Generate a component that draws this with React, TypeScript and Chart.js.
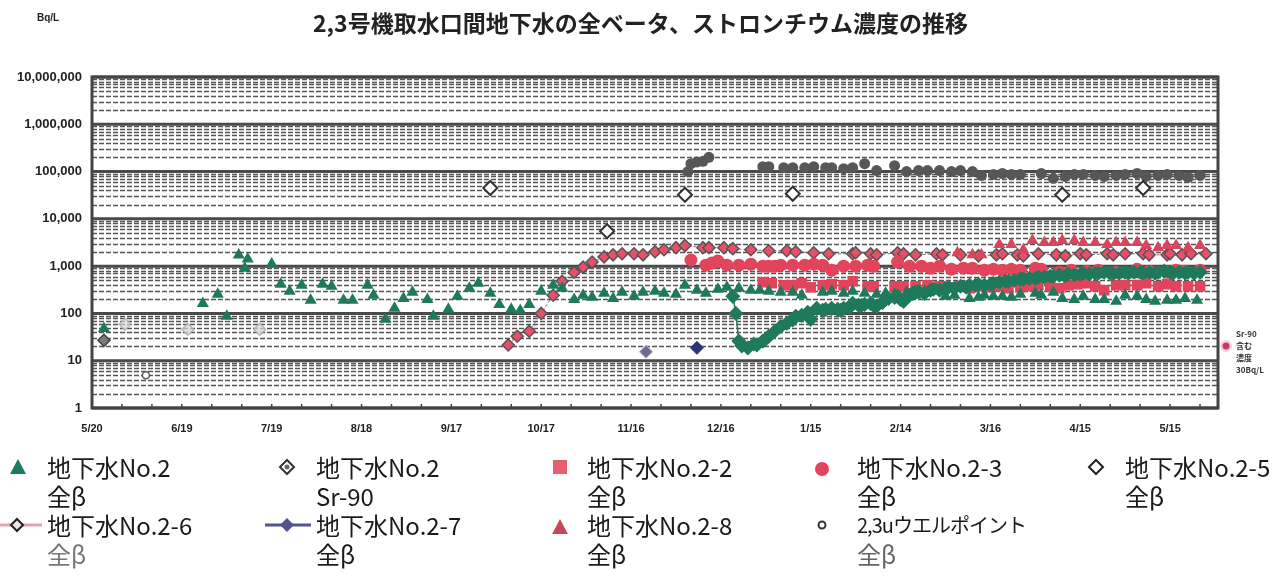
import React, { useEffect, useRef } from 'react';
import { Chart, registerables } from 'chart.js';

Chart.register(...registerables);

// ---- axis definitions (days since 5/20) ----
const X_TICK_DAYS = [0, 30, 60, 90, 120, 150, 180, 210, 240, 270, 300, 330, 360];
const X_TICK_LABELS = ['5/20', '6/19', '7/19', '8/18', '9/17', '10/17', '11/16', '12/16', '1/15', '2/14', '3/16', '4/15', '5/15'];
const Y_TICKS = [1, 10, 100, 1000, 10000, 100000, 1000000, 10000000];
const X_MAX = 376;

// ---- series: [day, Bq/L] ----
const NO2_BETA: number[][] = [
  [4, 48], [37, 163], [42, 254], [45, 87], [49, 1730], [51, 906], [52, 1420], [60, 1105], [63, 414], [66, 294],
  [70, 394], [73, 189], [77, 414], [80, 375], [84, 189], [87, 189], [92, 394], [94, 242], [98, 75], [101, 128],
  [104, 208], [107, 280], [112, 198], [114, 87], [119, 122], [122, 230], [126, 340], [129, 435], [133, 266], [136, 155],
  [140, 122], [143, 116], [146, 155], [150, 294], [154, 394], [157, 340], [161, 198], [164, 242], [167, 219], [171, 266],
  [174, 208], [177, 280], [181, 230], [184, 280], [188, 294], [191, 266], [195, 254], [198, 394], [202, 309], [205, 266],
  [209, 324], [212, 357], [216, 340], [220, 309], [223, 309], [226, 294], [230, 280], [234, 280], [237, 242], [244, 280],
  [247, 294], [251, 266], [254, 294], [258, 266], [262, 254], [265, 266], [268, 254], [272, 280], [275, 242], [278, 294],
  [282, 309], [285, 230], [288, 242], [293, 208], [296, 219], [298, 242], [301, 230], [304, 230], [307, 219], [310, 254],
  [315, 266], [317, 242], [321, 280], [324, 208], [328, 198], [331, 230], [335, 198], [338, 198], [342, 180], [345, 242],
  [349, 230], [352, 198], [355, 180], [359, 189], [362, 189], [365, 208], [369, 189],
];
const NO2_SR90: number[][] = [[4, 27]];
const NO2_FAINT: number[][] = [[11, 59], [32, 46], [56, 46]];
const NO2_2_BETA: number[][] = [
  [224, 457], [227, 435], [231, 394], [234, 394], [237, 435], [240, 357], [244, 394], [247, 414], [251, 394], [254, 480],
  [259, 375], [261, 375], [268, 375], [271, 375], [275, 375], [279, 394], [283, 375], [286, 357], [290, 375], [293, 340],
  [296, 375], [300, 357], [303, 375], [306, 340], [310, 357], [313, 375], [316, 394], [320, 375], [323, 340], [326, 394],
  [329, 414], [332, 435], [335, 375], [338, 309], [342, 394], [345, 394], [349, 394], [352, 435], [356, 375], [359, 414],
  [362, 375], [366, 375], [370, 375],
];
const NO2_3_BETA: number[][] = [
  [200, 1350], [205, 1050], [207, 1160], [209, 1280], [212, 1050], [216, 1050], [220, 1100], [224, 1000], [226, 1000], [228, 1000],
  [230, 1050], [234, 1050], [238, 1050], [241, 1100], [244, 1050], [247, 820], [251, 1000], [255, 1000], [259, 1050], [261, 1000],
  [269, 1220], [273, 1000], [277, 1000], [280, 906], [283, 1000], [287, 860], [291, 906], [294, 906], [298, 822], [301, 860],
  [304, 822], [307, 860], [310, 822], [315, 906], [317, 860], [323, 745], [327, 822], [332, 784], [336, 822], [342, 745],
  [349, 860], [353, 784], [359, 745], [362, 822], [365, 784], [370, 822],
];
const NO2_5_BETA: number[][] = [[133, 45000], [172, 5480], [198, 32400], [234, 33900], [324, 32400], [351, 45000]];
const NO2_6_BETA: number[][] = [
  [139, 21.5], [142, 33], [146, 42], [150, 100], [154, 242], [157, 480], [161, 745], [164, 952], [167, 1220], [171, 1570],
  [174, 1735], [177, 1823], [181, 1823], [184, 1735], [188, 2015], [191, 2227], [195, 2460], [198, 2720], [204, 2460], [206, 2460],
  [211, 2460], [214, 2340], [220, 2227], [226, 2120], [232, 2120], [235, 2015], [241, 1917], [246, 1823], [254, 1823], [255, 1917],
  [260, 1823], [262, 1735], [269, 1917], [271, 1823], [275, 1735], [282, 1823], [284, 1735], [290, 1735], [296, 1650], [302, 1735],
  [304, 1823], [309, 1735], [311, 1650], [316, 1823], [322, 1735], [325, 1650], [330, 1823], [332, 1735], [339, 1823], [341, 1735],
  [345, 1823], [351, 1823], [353, 1735], [359, 1735], [360, 1823], [364, 1735], [367, 1823], [372, 1823],
];
const NO2_7_BETA: number[][] = [[185, 15.4], [202, 18.7]];
const NO2_8_BETA: number[][] = [
  [289, 1917], [294, 1735], [297, 1735], [303, 2860], [307, 2860], [311, 2227], [314, 3497], [318, 3165], [321, 3165], [324, 3497],
  [328, 3497], [331, 3165], [335, 3165], [339, 2860], [342, 3165], [345, 3165], [349, 3165], [352, 2720], [356, 2460], [359, 2720],
  [362, 2720], [366, 2460], [370, 2720],
];
const WELLPOINT_BETA: number[][] = [[18, 4.9]];
const WELLPOINT_DARK: number[][] = [
  [199, 100000], [200, 147000], [202, 160000], [204, 165000], [206, 200000], [224, 127000], [226, 127000], [231, 121000], [234, 121000], [238, 121000],
  [241, 127000], [245, 121000], [247, 121000], [251, 115000], [254, 121000], [258, 147000], [262, 105000], [268, 133000], [272, 100000], [276, 105000],
  [279, 105000], [283, 105000], [287, 100000], [290, 105000], [294, 100000], [297, 83000], [301, 87000], [304, 91000], [307, 87000], [310, 87000],
  [317, 91000], [321, 72000], [325, 79000], [328, 87000], [331, 87000], [335, 83000], [338, 79000], [342, 83000], [345, 87000], [349, 91000],
  [352, 79000], [356, 83000], [359, 87000], [363, 83000], [366, 75000], [370, 83000],
];
const GREEN_DIAMOND: number[][] = [
  [214, 230], [215, 100], [216, 26], [217, 20.6], [219, 18.7], [221, 22.6], [222, 21.6], [224, 26], [225, 28.7], [226, 33],
  [228, 42], [230, 53], [232, 62], [234, 73], [235, 87], [237, 91], [239, 105], [240, 75], [242, 128], [244, 116],
  [245, 122], [247, 128], [249, 122], [250, 116], [251, 128], [253, 134], [254, 163], [256, 148], [257, 148], [258, 155],
  [260, 163], [261, 148], [262, 141], [264, 171], [265, 198], [266, 208], [268, 219], [269, 230], [270, 198], [271, 180],
  [273, 242], [274, 266], [275, 280], [276, 294], [278, 266], [280, 309], [281, 324], [283, 309], [285, 340], [286, 357],
  [288, 340], [290, 375], [292, 357], [293, 394], [295, 394], [296, 414], [298, 394], [300, 414], [301, 435], [303, 456],
  [305, 480], [306, 480], [308, 504], [310, 530], [311, 530], [313, 556], [315, 556], [316, 584], [318, 584], [320, 613],
  [321, 613], [323, 644], [325, 630], [326, 676], [328, 650], [330, 670], [331, 710], [333, 680], [335, 700], [336, 710],
  [338, 745], [340, 710], [341, 690], [343, 710], [345, 745], [346, 710], [348, 745], [350, 745], [351, 710], [353, 745],
  [355, 710], [356, 745], [358, 783], [360, 745], [361, 710], [363, 745], [365, 710], [366, 745], [368, 710], [370, 745],
];

const toXY = (arr: number[][]) => arr.map(([x, y]) => ({ x, y }));

const gridPlugin = {
  id: 'scanGrid',
  beforeDatasetsDraw(chart: any) {
    const { ctx, chartArea: a, scales } = chart;
    const ys = scales.y;
    const xs = scales.x;
    ctx.save();
    ctx.strokeStyle = '#555';
    ctx.lineWidth = 1.3;
    ctx.setLineDash([5, 2]);
    for (let e = 0; e < 7; e++) {
      for (let k = 2; k <= 9; k++) {
        const py = Math.round(ys.getPixelForValue(k * Math.pow(10, e))) + 0.5;
        ctx.beginPath();
        ctx.moveTo(a.left, py);
        ctx.lineTo(a.right, py);
        ctx.stroke();
      }
    }
    ctx.setLineDash([]);
    ctx.strokeStyle = '#4a4a4a';
    ctx.lineWidth = 3;
    for (let e = 0; e <= 7; e++) {
      const py = ys.getPixelForValue(Math.pow(10, e));
      ctx.beginPath();
      ctx.moveTo(a.left, py);
      ctx.lineTo(a.right, py);
      ctx.stroke();
    }
    ctx.lineWidth = 1.5;
    ctx.strokeStyle = '#444';
    for (let d = 10; d < X_MAX; d += 10) {
      const px = xs.getPixelForValue(d);
      ctx.beginPath();
      ctx.moveTo(px, a.bottom);
      ctx.lineTo(px, a.bottom - 4);
      ctx.stroke();
    }
    ctx.lineWidth = 3;
    ctx.strokeStyle = '#444';
    ctx.strokeRect(a.left, a.top, a.right - a.left, a.bottom - a.top);
    ctx.restore();
  },
};

const GREEN = '#1f7a5c';
const RED = '#e2445b';

const legendText: React.CSSProperties = {
  position: 'absolute',
  fontFamily: '"Noto Sans CJK JP", "Noto Sans", sans-serif',
  fontSize: 24,
  lineHeight: '29px',
  color: '#1a1a1a',
  whiteSpace: 'nowrap',
};

export default function App() {
  const canvasRef = useRef<HTMLCanvasElement | null>(null);

  useEffect(() => {
    if (!canvasRef.current) return;
    const chart = new Chart(canvasRef.current, {
      type: 'scatter',
      data: {
        datasets: [
          {
            label: '地下水No.2 全β', data: toXY(NO2_BETA), pointStyle: 'triangle', pointRadius: 7,
            backgroundColor: GREEN, borderColor: GREEN, borderWidth: 0,
          },
          {
            label: '地下水 全β', data: toXY(GREEN_DIAMOND), pointStyle: 'rectRot', pointRadius: 6.5, showLine: true,
            borderColor: GREEN, borderWidth: 1.5, pointBackgroundColor: GREEN, pointBorderColor: GREEN,
          },
          {
            label: '地下水No.2-2 全β', data: toXY(NO2_2_BETA), pointStyle: 'rect', pointRadius: 7.5,
            backgroundColor: RED, borderColor: RED, borderWidth: 0,
          },
          {
            label: '地下水No.2-3 全β', data: toXY(NO2_3_BETA), pointStyle: 'circle', pointRadius: 6.5,
            backgroundColor: RED, borderColor: RED, borderWidth: 0,
          },
          {
            label: '地下水No.2-8 全β', data: toXY(NO2_8_BETA), pointStyle: 'triangle', pointRadius: 7,
            backgroundColor: '#d8455c', borderColor: '#d8455c', borderWidth: 0,
          },
          {
            label: '地下水No.2-6 全β', data: toXY(NO2_6_BETA), pointStyle: 'rectRot', pointRadius: 6, showLine: true,
            borderColor: '#8a6a70', borderWidth: 1, borderDash: [3, 2],
            pointBackgroundColor: '#e8506a', pointBorderColor: '#555', pointBorderWidth: 1.5,
          },
          {
            label: '地下水No.2-5 全β', data: toXY(NO2_5_BETA), pointStyle: 'rectRot', pointRadius: 7,
            backgroundColor: '#ffffff', borderColor: '#333', borderWidth: 2,
          },
          {
            label: '2,3uウエルポイント', data: toXY(WELLPOINT_DARK), pointStyle: 'circle', pointRadius: 5.5,
            backgroundColor: '#575757', borderColor: '#575757', borderWidth: 0,
          },
          {
            label: '地下水No.2-7 全β', data: toXY(NO2_7_BETA), pointStyle: 'rectRot', pointRadius: 6.5,
            pointBackgroundColor: ['#6d6a92', '#2b3578'], pointBorderColor: ['#b8b4d0', '#2b3578'], pointBorderWidth: 1,
          },
          {
            label: '地下水No.2 Sr-90', data: toXY(NO2_SR90), pointStyle: 'rectRot', pointRadius: 6,
            backgroundColor: '#7a7a7a', borderColor: '#444', borderWidth: 1.5,
          },
          {
            label: '地下水No.2 Sr-90 ', data: toXY(NO2_FAINT), pointStyle: 'rectRot', pointRadius: 6,
            backgroundColor: 'rgba(215,215,215,0.7)', borderColor: 'rgba(175,175,175,0.8)', borderWidth: 1.5,
          },
          {
            label: '2,3uウエルポイント 全β', data: toXY(WELLPOINT_BETA), pointStyle: 'circle', pointRadius: 3.5,
            backgroundColor: '#ffffff', borderColor: '#555', borderWidth: 1.5,
          },
        ],
      },
      options: {
        responsive: false,
        animation: false,
        events: [],
        layout: { padding: { left: 0, right: 63, top: 77, bottom: 140 } },
        plugins: { legend: { display: false }, title: { display: false }, tooltip: { enabled: false } },
        scales: {
          x: {
            type: 'linear', min: 0, max: X_MAX,
            grid: { display: false, drawTicks: false },
            border: { display: false },
            afterBuildTicks: (s: any) => { s.ticks = X_TICK_DAYS.map((v) => ({ value: v })); },
            afterFit: (s: any) => { s.height = 30; },
            ticks: {
              autoSkip: false, maxRotation: 0, padding: 14, color: '#222',
              font: { family: '"Liberation Sans", Arial, sans-serif', size: 11, weight: 'bold' },
              callback: (_v: any, i: number) => X_TICK_LABELS[i] ?? '',
            },
          },
          y: {
            type: 'logarithmic', min: 1, max: 10000000,
            grid: { display: false, drawTicks: false },
            border: { display: false },
            afterBuildTicks: (s: any) => { s.ticks = Y_TICKS.map((v) => ({ value: v })); },
            afterFit: (s: any) => { s.width = 92; },
            ticks: {
              autoSkip: false, padding: 10, color: '#222',
              font: { family: '"Liberation Sans", Arial, sans-serif', size: 13, weight: 'bold' },
              callback: (v: any) => Number(v).toLocaleString('en-US'),
            },
          },
        },
      },
      plugins: [gridPlugin],
    } as any);
    return () => chart.destroy();
  }, []);

  const T = (left: number, top: number, l1: string, l2: string, c2 = '#1a1a1a', fs = 24, ls = 0) => (
    <div style={{ ...legendText, left, top }}>
      <div style={{ fontSize: fs, letterSpacing: ls }}>{l1}</div>
      <div style={{ color: c2, fontSize: 24 }}>{l2}</div>
    </div>
  );

  return (
    <div style={{ position: 'absolute', left: 0, top: 0, width: 1281, height: 578, background: '#fff', overflow: 'hidden' }}>
      <canvas ref={canvasRef} width={1281} height={578} style={{ position: 'absolute', left: 0, top: 0 }} />
      <div style={{
        position: 'absolute', left: 0, width: 1281, top: 5, textAlign: 'center',
        fontFamily: '"Noto Sans CJK JP", sans-serif', fontWeight: 'bold', fontSize: 23, color: '#222',
      }}>2,3号機取水口間地下水の全ベータ、ストロンチウム濃度の推移</div>
      <div style={{
        position: 'absolute', left: 37, top: 12, fontFamily: '"Liberation Sans", Arial, sans-serif',
        fontWeight: 'bold', fontSize: 10, color: '#222',
      }}>Bq/L</div>
      <div style={{
        position: 'absolute', left: 1236, top: 328, fontFamily: '"Noto Sans CJK JP", sans-serif',
        fontWeight: 'bold', fontSize: 8, lineHeight: '12px', color: '#333',
      }}>
        <div>Sr-90</div><div>含む</div><div>濃度</div><div>30Bq/L</div>
      </div>
      <svg width={1281} height={578} style={{ position: 'absolute', left: 0, top: 0 }}>
        <circle cx={1226} cy={346} r={6} fill="rgba(220,80,130,0.25)" />
        <circle cx={1226} cy={346} r={3.5} fill="#c83a6e" />
        {/* row 1 markers */}
        <polygon points="18,459 26,474 10,474" fill={GREEN} />
        <polygon points="287,460 294,467 287,474 280,467" fill="#fff" stroke="#333" strokeWidth={2} />
        <circle cx={287} cy={467} r={2.5} fill="#666" />
        <rect x={553} y={460} width={14} height={14} fill="#e4606c" />
        <circle cx={822} cy={469} r={7} fill={RED} />
        <polygon points="1096,460 1103,467 1096,474 1089,467" fill="#fff" stroke="#222" strokeWidth={2} />
        {/* row 2 markers */}
        <line x1={0} y1={525} x2={42} y2={525} stroke="#e0a6ae" strokeWidth={3} />
        <polygon points="17,519 23,525 17,531 11,525" fill="#f3e2e6" stroke="#222" strokeWidth={2} />
        <line x1={265} y1={525} x2={311} y2={525} stroke="#4f548f" strokeWidth={3} />
        <polygon points="287,518 294,525 287,532 280,525" fill="#4f548f" />
        <polygon points="560,519 568,534 552,534" fill="#c8485a" />
        <circle cx={822} cy={525} r={3.5} fill="#fff" stroke="#333" strokeWidth={2} />
      </svg>
      {T(47, 452, '地下水No.2', '全β')}
      {T(316, 452, '地下水No.2', 'Sr-90')}
      {T(587, 452, '地下水No.2-2', '全β')}
      {T(857, 452, '地下水No.2-3', '全β')}
      {T(1125, 452, '地下水No.2-5', '全β')}
      {T(47, 510, '地下水No.2-6', '全β', '#777')}
      {T(316, 510, '地下水No.2-7', '全β')}
      {T(587, 510, '地下水No.2-8', '全β')}
      {T(857, 510, '2,3uウエルポイント', '全β', '#666', 20, -1)}
    </div>
  );
}
